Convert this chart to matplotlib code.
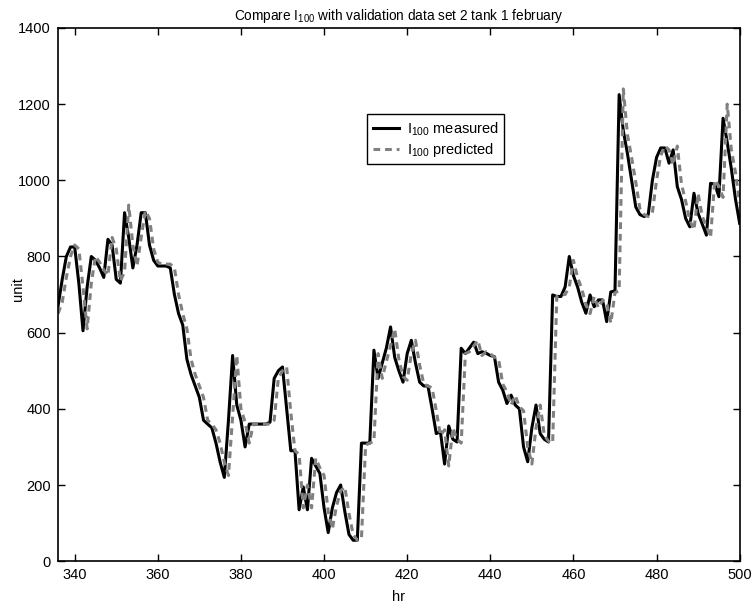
import numpy as np
import matplotlib
matplotlib.use("Agg")
import matplotlib.pyplot as plt

plt.rcParams['font.family'] = ['Liberation Sans', 'DejaVu Sans']

hours = np.arange(336, 501)

measured = [
    670, 740, 800, 825, 825, 730, 605, 720, 800, 790,
    770, 745, 845, 830, 740, 730, 915, 850, 770, 830,
    915, 915, 830, 790, 775, 775, 775, 770, 700, 650,
    620, 530, 490, 460, 430, 370, 360, 350, 310, 260,
    220, 370, 540, 410, 370, 300, 360, 360, 360, 360,
    360, 365, 480, 500, 510, 400, 290, 290, 135, 195,
    135, 270, 250, 230, 140, 75, 140, 180, 200, 130,
    70, 55, 55, 310, 310, 310, 554, 480, 520, 560,
    615, 535, 500, 470, 545, 580, 520, 470, 460, 460,
    400, 335, 340, 255, 355, 320, 313, 559, 545, 560,
    575, 545, 550, 546, 540, 537, 470, 449, 414, 436,
    410, 400, 300, 261, 350, 410, 335, 320, 313, 699,
    695, 695, 720, 800, 750, 720, 680, 651, 699, 668,
    686, 686, 629, 707, 710, 1225, 1130, 1070, 1000, 930,
    910, 905, 910, 1000, 1060, 1085, 1085, 1045, 1080, 983,
    950, 900, 878, 966, 913, 885, 856, 992, 990, 957,
    1163, 1100, 1030, 950, 887,
]

predicted = [
    650, 680, 745, 800, 830, 820, 720, 610, 730, 800,
    785, 765, 750, 850, 820, 735, 760, 935, 830, 775,
    850, 920, 900, 820, 785, 780, 780, 780, 770, 700,
    650, 610, 530, 490, 460, 430, 370, 360, 345, 310,
    260, 225, 380, 540, 400, 365, 310, 360, 360, 360,
    360, 360, 370, 480, 500, 510, 390, 290, 280, 140,
    200, 140, 270, 245, 225, 130, 85, 145, 185, 195,
    125, 70, 55, 60, 305, 310, 315, 545, 480, 525,
    565, 610, 530, 485, 475, 545, 580, 515, 465, 460,
    455, 395, 330, 345, 250, 350, 320, 310, 545, 550,
    565, 580, 540, 550, 545, 535, 530, 465, 445, 410,
    435, 405, 395, 300, 255, 350, 410, 330, 315, 310,
    695, 700, 700, 720, 790, 745, 715, 675, 650, 695,
    665, 685, 680, 625, 705, 710, 1240, 1120, 1060, 995,
    925, 910, 905, 915, 1000, 1065, 1090, 1080, 1040, 1090,
    990, 945, 895, 870, 965, 905, 880, 850, 1000, 985,
    955, 1200, 1080, 1020, 940,
]

fig = plt.figure(figsize=(7.54, 6.08), dpi=100)
ax = fig.add_axes([0.077, 0.077, 0.904, 0.877])

ax.plot(hours, measured, color='black', linewidth=2.2, solid_joinstyle='round',
        label=r'I$_{\mathregular{100}}$ measured')
ax.plot(hours, predicted, color='0.5', linewidth=2.2, linestyle=(0, (2.2, 1.6)),
        label=r'I$_{\mathregular{100}}$ predicted')

ax.set_xlim(336, 500)
ax.set_ylim(0, 1400)
ax.set_xticks(range(340, 501, 20))
ax.set_yticks(range(0, 1401, 200))
ax.tick_params(direction='in', top=True, right=True, length=5, width=1, labelsize=10.5, pad=5)
for s in ax.spines.values():
    s.set_linewidth(1.2)

ax.set_xlabel('hr', fontsize=10.5, labelpad=6)
ax.set_ylabel('unit', fontsize=10.5)
ax.yaxis.set_label_coords(-0.048, 0.51)
ax.set_title(r'Compare I$_{\mathregular{100}}$ with validation data set 2 tank 1 february',
             fontsize=9.8, pad=6)

leg = ax.legend(loc='upper left', bbox_to_anchor=(0.443, 0.852), fontsize=10.5,
                fancybox=False, edgecolor='black', framealpha=1, handlelength=1.8,
                borderpad=0.4, labelspacing=0.2, handletextpad=0.5)
leg.get_frame().set_linewidth(1.0)

fig.savefig('out.png', dpi=100)
